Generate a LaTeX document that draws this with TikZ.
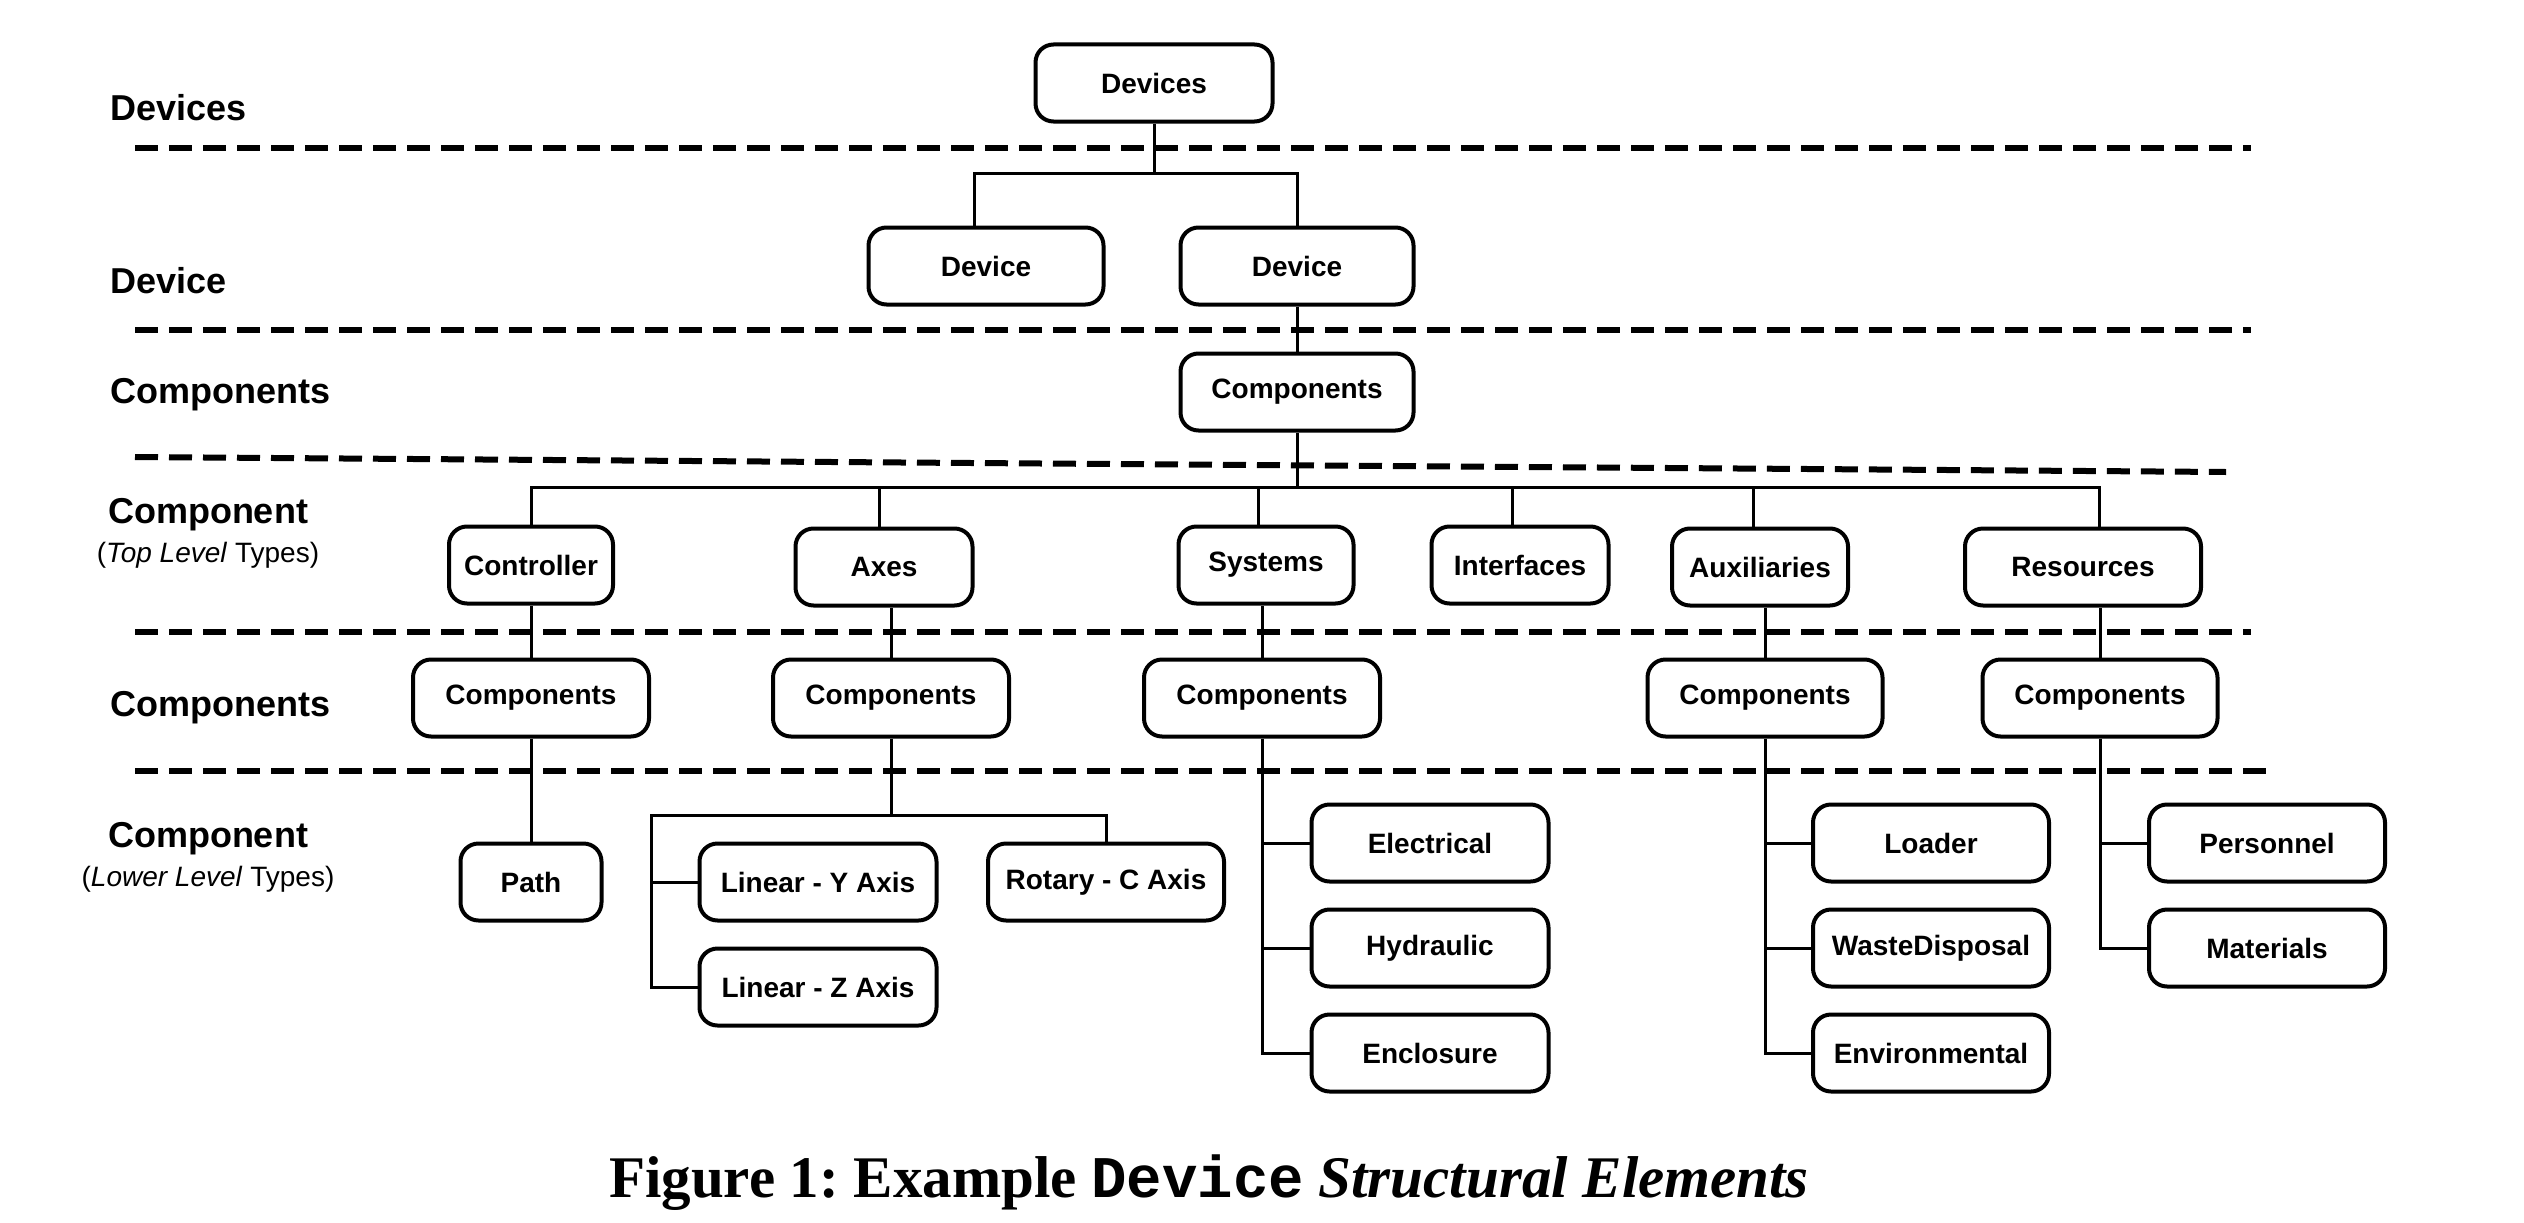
\documentclass[tikz,border=0pt]{standalone}
\usepackage{fontspec}
\setmainfont{Liberation Sans}
\newfontfamily\serifcap{Liberation Serif}
\newfontfamily\monocap{Liberation Mono}
\frenchspacing
\begin{document}
\begin{tikzpicture}[x=1pt,y=-1pt,
  box/.style={draw, fill=white, line width=4pt, rounded corners=18pt,
    minimum height=77pt, inner sep=0pt,
    font=\fontsize{28}{32}\selectfont\bfseries, align=center},
  conn/.style={line width=3pt},
  sepline/.style={line width=6pt, dash pattern=on 23pt off 11pt},
  lab/.style={font=\fontsize{36}{40}\selectfont\bfseries, inner sep=0pt},
  sublab/.style={font=\fontsize{28}{32}\selectfont, inner sep=0pt}]
\fill[white] (0,0) rectangle (2524,1223);
\useasboundingbox (0,0) rectangle (2524,1223);

% separators
\draw[sepline] (135,148) -- (2251,148);
\draw[sepline] (135,330) -- (2251,330);
\draw[sepline] (135,457) -- (2226,472);
\draw[sepline] (135,632) -- (2251,632);
\draw[sepline] (135,771) -- (2268,771);

% left labels
\node[lab, anchor=base west] (lDevices) at (110,120) {Devices};
\node[lab, anchor=base west] (lDevice) at (110,293) {Device};
\node[lab, anchor=base west] (lComps1) at (110,403) {Components};
\node[lab, anchor=base] (lCompTop) at (208,523) {Component};
\node[sublab, anchor=base] (lTop) at (208,562) {(\textit{Top Level} Types)};
\node[lab, anchor=base west] (lComps2) at (110,716) {Components};
\node[lab, anchor=base] (lCompLow) at (208,847) {Component};
\node[sublab, anchor=base] (lLow) at (208,886) {(\textit{Lower Level} Types)};

% nodes
\node[box, minimum width=237pt] (devs) at (1154,83) {Devices};
\node[box, minimum width=235pt] (dev1) at (986,266) {Device};
\node[box, minimum width=233pt] (dev2) at (1297,266) {Device};
\node[box, minimum width=233pt] (comps) at (1297,392) {Components};

\node[box, minimum width=164pt] (ctrl) at (531,565) {Controller};
\node[box, minimum width=177pt] (axes) at (884,567) {Axes};
\node[box, minimum width=175pt] (sys) at (1266,565) {Systems};
\node[box, minimum width=177pt] (intf) at (1520,565) {Interfaces};
\node[box, minimum width=176pt] (aux) at (1760,567) {Auxiliaries};
\node[box, minimum width=236pt] (res) at (2083,567) {Resources};

\node[box, minimum width=236pt] (c1) at (531,698) {Components};
\node[box, minimum width=236pt] (c2) at (891,698) {Components};
\node[box, minimum width=236pt] (c3) at (1262,698) {Components};
\node[box, minimum width=235pt] (c4) at (1765,698) {Components};
\node[box, minimum width=235pt] (c5) at (2100,698) {Components};

\node[box, minimum width=141pt] (path) at (531,882) {Path};
\node[box, minimum width=237pt] (liny) at (818,882) {Linear - Y Axis};
\node[box, minimum width=236pt] (rot) at (1106,882) {Rotary - C Axis};
\node[box, minimum width=237pt] (linz) at (818,987) {Linear - Z Axis};

\node[box, minimum width=237pt] (elec) at (1430,843) {Electrical};
\node[box, minimum width=237pt] (hyd) at (1430,948) {Hydraulic};
\node[box, minimum width=237pt] (encl) at (1430,1053) {Enclosure};

\node[box, minimum width=236pt] (load) at (1931,843) {Loader};
\node[box, minimum width=236pt] (waste) at (1931,948) {WasteDisposal};
\node[box, minimum width=236pt] (env) at (1931,1053) {Environmental};

\node[box, minimum width=236pt] (pers) at (2267,843) {Personnel};
\node[box, minimum width=236pt] (mat) at (2267,948) {Materials};

% connectors
\coordinate (b1) at (1154,173);
\coordinate (dev1n) at ([xshift=-12pt]dev1.north);
\draw[conn] (devs.south) -- (b1);
\draw[conn] (dev1n) |- (b1) -| (dev2.north);
\draw[conn] (dev2.south) -- (comps.north);

\coordinate (b2) at (1297,487);
\coordinate (axn) at ([xshift=-5pt]axes.north);
\coordinate (sysn) at ([xshift=-8pt]sys.north);
\coordinate (intfn) at ([xshift=-8pt]intf.north);
\coordinate (auxn) at ([xshift=-7pt]aux.north);
\coordinate (resn) at ([xshift=16pt]res.north);
\draw[conn] (comps.south) -- (b2);
\draw[conn] (ctrl.north) |- (b2) -| (resn);
\draw[conn] (axn) -- (axn |- b2);
\draw[conn] (sysn) -- (sysn |- b2);
\draw[conn] (intfn) -- (intfn |- b2);
\draw[conn] (auxn) -- (auxn |- b2);

\draw[conn] (c1.north) -- (ctrl.south);
\draw[conn] (c2.north) -- (c2.north |- axes.south);
\draw[conn] (c3.north) -- (c3.north |- sys.south);
\draw[conn] (c4.north) -- (c4.north |- aux.south);
\draw[conn] (c5.north) -- (c5.north |- res.south);

\draw[conn] (c1.south) -- (path.north);

\coordinate (b3) at (651,815);
\draw[conn] (c2.south) -- (c2.south |- b3);
\draw[conn] (rot.north) |- (b3) |- (linz.west);
\draw[conn] (liny.west) -- (liny.west -| b3);

\draw[conn] (c3.south) |- (encl.west);
\draw[conn] (elec.west) -- (elec.west -| c3.south);
\draw[conn] (hyd.west) -- (hyd.west -| c3.south);

\draw[conn] (c4.south) |- (env.west);
\draw[conn] (load.west) -- (load.west -| c4.south);
\draw[conn] (waste.west) -- (waste.west -| c4.south);

\draw[conn] (c5.south) |- (mat.west);
\draw[conn] (pers.west) -- (pers.west -| c5.south);

% caption
\node[anchor=base, inner sep=0pt, font=\fontsize{59}{64}\selectfont] (caption) at (1209,1197)
  {{\serifcap\bfseries Figure 1: Example }{\monocap\bfseries Device}{\serifcap\bfseries\itshape{} Structural Elements}};
\end{tikzpicture}
\end{document}
